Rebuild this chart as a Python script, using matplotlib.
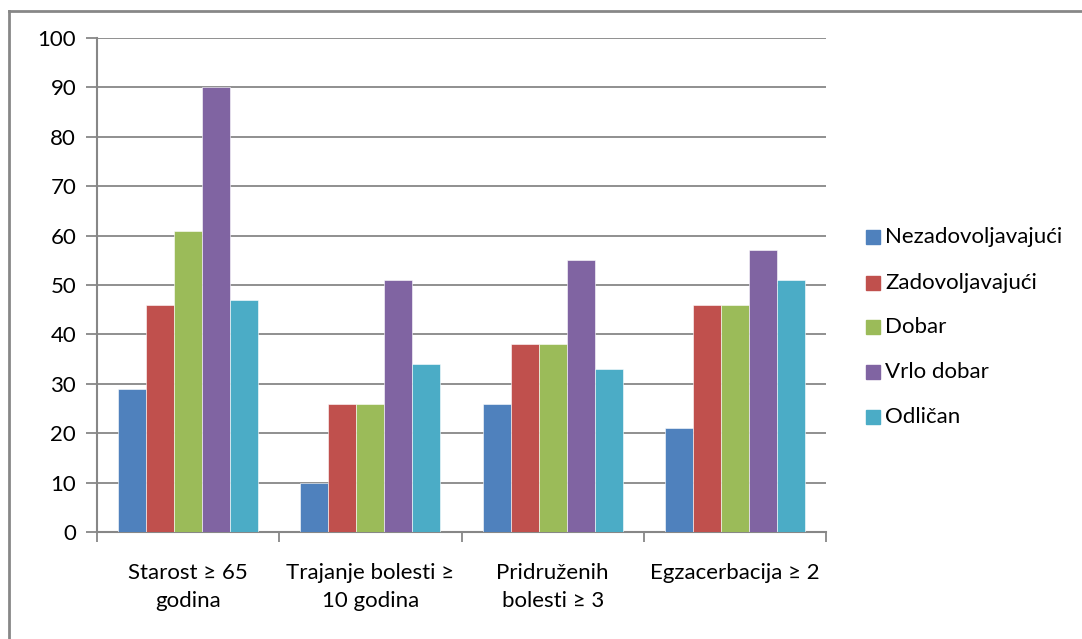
import matplotlib
matplotlib.use("Agg")
import matplotlib.pyplot as plt
from matplotlib.lines import Line2D
from matplotlib.patches import Rectangle
import numpy as np

categories = ["Starost ≥ 65\ngodina", "Trajanje bolesti ≥\n10 godina",
              "Pridruženih\nbolesti ≥ 3", "Egzacerbacija ≥ 2"]
series_names = ["Nezadovoljavajući", "Zadovoljavajući", "Dobar", "Vrlo dobar", "Odličan"]
nezadovoljavajuci = [29, 10, 26, 21]
zadovoljavajuci = [46, 26, 38, 46]
dobar = [61, 26, 38, 46]
vrlo_dobar = [90, 51, 55, 57]
odlican = [47, 34, 33, 51]
colors = ["#4F81BD", "#C0504D", "#9BBB59", "#8064A2", "#4BACC6"]
y_ticks = list(range(0, 101, 10))

plt.rcParams['font.family'] = ['Lato', 'DejaVu Sans']
FS = 16

W, H = 1082, 639
fig = plt.figure(figsize=(W / 100, H / 100), dpi=100)

# outer chart border (left and top edges)
fig.add_artist(Line2D([8.5 / W, 8.5 / W], [0, 1 - 11 / H], color="#878787", lw=2.0,
                      transform=fig.transFigure))
fig.add_artist(Line2D([8.5 / W, 1], [1 - 11 / H, 1 - 11 / H], color="#878787", lw=2.0,
                      transform=fig.transFigure))

ax = fig.add_axes([97 / W, 1 - 532 / H, (826 - 97) / W, (532 - 38) / H])

data = [nezadovoljavajuci, zadovoljavajuci, dobar, vrlo_dobar, odlican]
n = len(data)
bw = 1 / (n + 1.5)
centers = np.arange(len(categories)) + 0.5
for i, (vals, c) in enumerate(zip(data, colors)):
    x = centers + (i - (n - 1) / 2) * bw
    ax.bar(x, vals, width=bw, color=c, edgecolor="white", linewidth=0.4, zorder=3,
           label=series_names[i])

ax.set_xlim(0, len(categories))
ax.set_ylim(0, 100)
ax.set_yticks(y_ticks)
ax.yaxis.grid(True, color="#878787", lw=1.3, zorder=0)
ax.set_axisbelow(True)

ax.set_xticks(np.arange(len(categories) + 1))
ax.set_xticklabels([])
ax.set_xticks(centers, minor=True)
ax.set_xticklabels(categories, minor=True, fontsize=FS, linespacing=1.5)
ax.tick_params(axis="x", which="minor", length=0, pad=22)
ax.tick_params(axis="x", which="major", length=7, width=1.3, color="#878787", direction="out")
ax.tick_params(axis="y", length=8, width=1.3, color="#878787", direction="out",
               labelsize=FS, pad=7)

for s in ["top", "right"]:
    ax.spines[s].set_visible(False)
for s in ["left", "bottom"]:
    ax.spines[s].set_color("#878787")
    ax.spines[s].set_linewidth(1.5)

# legend
leg_y = [237, 283, 327, 372, 417]
for name, c, yy in zip(series_names, colors, leg_y):
    fig.add_artist(Rectangle((866 / W, 1 - (yy + 7) / H), 14 / W, 14 / H, color=c,
                             transform=fig.transFigure))
    fig.text(885 / W, 1 - yy / H, name, fontsize=FS, va="center", ha="left")

fig.savefig("out.png", dpi=100, facecolor="white")
